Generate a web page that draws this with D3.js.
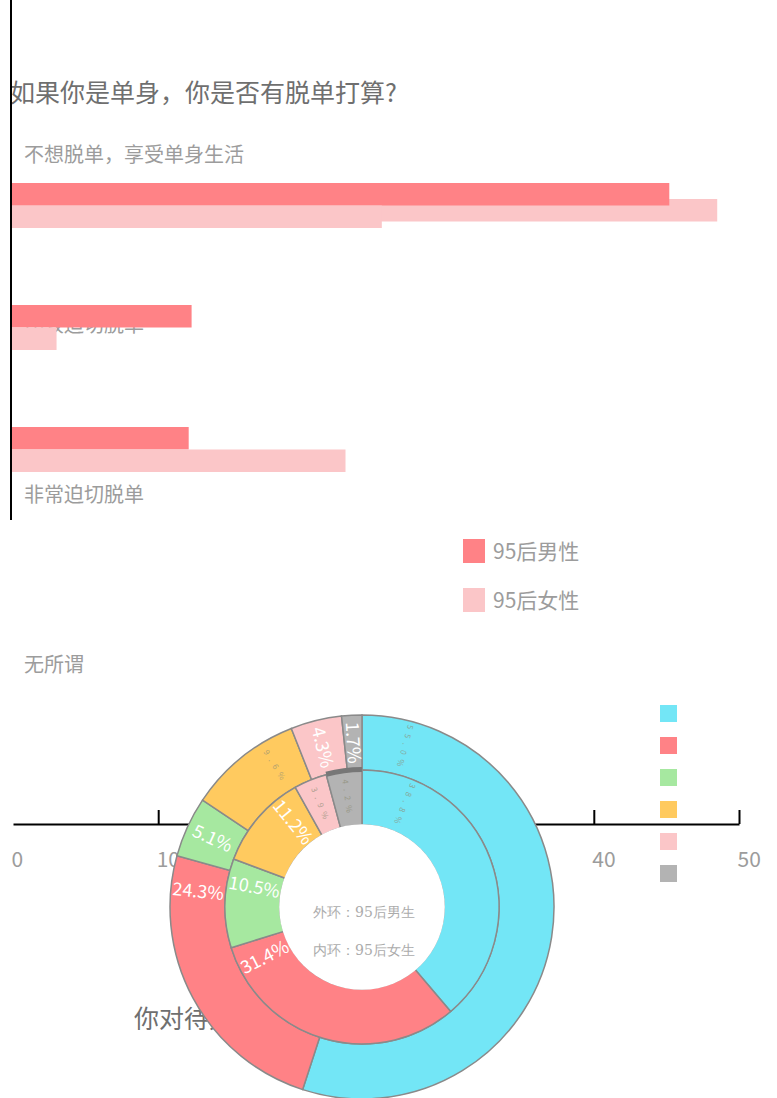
<!DOCTYPE html>
<html>
<head>
<meta charset="utf-8">
<script src="https://cdn.jsdelivr.net/npm/d3@7/dist/d3.min.js"></script>
<style>
  body { margin: 0; background: #fff; }
  svg { display: block; }
  text { font-family: "Noto Sans CJK SC", "Microsoft YaHei", sans-serif; }
</style>
</head>
<body>
<div id="wrapper"></div>
<script>
// Bar chart data
const categories = ['不想脱单，享受单身生活', '比较迫切脱单', '非常迫切脱单', '无所谓'];
const maleValues = [45.2, 12.3, 12.1, null];
const femaleValues = [25.4, 3.0, 22.9, null];
const femaleGhostValues = [48.5, null, null, null]; // stray bar left behind in the first group
const xTicks = [0, 10, 20, 30, 40, 50];
const seriesNames = ['95后男性', '95后女性'];

// Donut data
const ringNames = ['外环：95后男生', '内环：95后女生'];
const outerShares = [55.0, 24.3, 5.1, 9.6, 4.3, 1.7];
const innerShares = [38.8, 31.4, 10.5, 11.2, 3.9, 4.2];

function drawChart() {
  const dimensions = { width: 777, height: 1098 };

  const barColors = ['#ff8286', '#fbc6c8'];
  const sliceColors = ['#73e6f6', '#ff8286', '#a6e8a0', '#ffca5f', '#fbc6c8', '#b3b3b3'];
  const faintLabels = { outer: [0, 3], inner: [0, 4, 5] };

  const svg = d3
    .select('#wrapper')
    .append('svg')
    .attr('width', dimensions.width)
    .attr('height', dimensions.height);

  // Scales
  const xScale = d3.scaleLinear().domain([0, 50]).range([13, 739]);
  const yScale = d3.scaleBand().domain(categories).range([183, 671]);
  const labelScale = d3.scalePoint().domain(categories).range([155, 665]);
  const barHeight = 22.5;

  // Titles
  svg
    .append('text')
    .attr('x', 10)
    .attr('y', 102)
    .attr('fill', '#6f6f6f')
    .style('font-size', '25px')
    .text('如果你是单身，你是否有脱单打算?');

  svg
    .append('text')
    .attr('x', 134)
    .attr('y', 1028)
    .attr('fill', '#6f6f6f')
    .style('font-size', '25px')
    .text('你对待爱情的态度？');

  // Category labels
  svg
    .append('g')
    .selectAll('text')
    .data(categories)
    .join('text')
    .attr('x', 24)
    .attr('y', (d) => labelScale(d))
    .attr('dy', '0.35em')
    .attr('fill', '#9c9c9c')
    .style('font-size', '20px')
    .text((d) => d);

  // y axis line
  svg
    .append('line')
    .attr('x1', 11)
    .attr('x2', 11)
    .attr('y1', 0)
    .attr('y2', 520)
    .attr('stroke', '#000')
    .attr('stroke-width', 2);

  // Bars
  const bars = svg.append('g');
  bars
    .selectAll('.ghost')
    .data(categories.filter((c, i) => femaleGhostValues[i] != null))
    .join('rect')
    .attr('class', 'ghost')
    .attr('x', xScale(0) - 1)
    .attr('y', (d) => yScale(d) + 16)
    .attr('width', (d) => xScale(femaleGhostValues[categories.indexOf(d)]) - xScale(0) + 1)
    .attr('height', barHeight)
    .attr('fill', barColors[1]);

  [maleValues, femaleValues].forEach((values, s) => {
    bars
      .append('g')
      .selectAll('rect')
      .data(categories.filter((c, i) => values[i] != null))
      .join('rect')
      .attr('x', xScale(0) - 1)
      .attr('y', (d) => yScale(d) + s * barHeight)
      .attr('width', (d) => xScale(values[categories.indexOf(d)]) - xScale(0) + 1)
      .attr('height', barHeight)
      .attr('fill', barColors[s]);
  });

  // x axis
  const xAxis = d3
    .axisBottom(xScale)
    .tickValues(xTicks)
    .tickSizeInner(-14)
    .tickSizeOuter(0);
  const xAxisGroup = svg
    .append('g')
    .attr('transform', 'translate(0, 824)')
    .call(xAxis);
  xAxisGroup.select('.domain').attr('stroke', '#000').attr('stroke-width', 2);
  xAxisGroup.selectAll('.tick line').attr('stroke', '#000').attr('stroke-width', 2);
  xAxisGroup.selectAll('.tick').filter((d) => d === 0).select('line').remove();
  xAxisGroup
    .selectAll('.tick text')
    .attr('x', -2)
    .attr('y', 43)
    .attr('dy', 0)
    .attr('text-anchor', 'start')
    .attr('fill', '#9c9c9c')
    .style('font-size', '21px')
    .style('font-family', '"Noto Sans CJK SC", sans-serif');

  // Bar legend
  const legend = svg.append('g');
  seriesNames.forEach((name, i) => {
    legend
      .append('rect')
      .attr('x', 463)
      .attr('y', 539 + i * 49)
      .attr('width', 22)
      .attr('height', 24)
      .attr('fill', barColors[i]);
    legend
      .append('text')
      .attr('x', 493)
      .attr('y', 551 + i * 49)
      .attr('dy', '0.36em')
      .attr('fill', '#9c9c9c')
      .style('font-size', '21px')
      .text(name);
  });

  // Donut
  const cx = 362;
  const cy = 907;
  const holeRadius = 82;
  const rings = [
    { key: 'outer', shares: outerShares, inner: 137, outer: 192 },
    { key: 'inner', shares: innerShares, inner: holeRadius, outer: 137 },
  ];
  const pie = d3.pie().sort(null).value((d) => d);
  const donut = svg.append('g').attr('transform', `translate(${cx}, ${cy})`);

  // white hole hides the axis behind the donut
  donut.append('circle').attr('r', holeRadius + 1).attr('fill', '#fff');

  rings.forEach((ring) => {
    const arc = d3.arc().innerRadius(ring.inner).outerRadius(ring.outer);
    const slices = pie(ring.shares);
    donut
      .append('g')
      .selectAll('path')
      .data(slices)
      .join('path')
      .attr('d', arc)
      .attr('fill', (d, i) => sliceColors[i])
      .attr('stroke', '#8a8a8a')
      .attr('stroke-width', 1.5);

    const rMid = (ring.inner + ring.outer) / 2;
    const labelAngle = (d, i) =>
      i === 0
        ? d.startAngle + 43 / rMid
        : d.endAngle - Math.min((d.endAngle - d.startAngle) / 2, (10 * Math.PI) / 180);

    donut
      .append('g')
      .selectAll('text')
      .data(slices)
      .join('text')
      .each(function (d, i) {
        const a = labelAngle(d, i);
        const x = rMid * Math.sin(a);
        const y = -rMid * Math.cos(a);
        const rot = (Math.atan2(Math.cos(a), -Math.sin(a)) * 180) / Math.PI;
        const faint = faintLabels[ring.key].includes(i);
        d3.select(this)
          .attr('transform', `translate(${x}, ${y}) rotate(${rot})`)
          .attr('text-anchor', 'middle')
          .attr('dy', '0.35em')
          .attr('fill', faint ? '#8f8f78' : '#fff')
          .attr('opacity', faint ? 0.7 : 1)
          .style('font-size', faint ? '8px' : '18px')
          .style('letter-spacing', faint ? '5px' : null)
          .text(d3.format('.1f')(d.data) + '%');
      });
  });

  // soften the inner edge: no outline around the hole
  donut.append('circle').attr('r', holeRadius + 0.8).attr('fill', '#fff');

  // thick top edge on the inner grey slice
  const innerSlices = pie(innerShares);
  const greySlice = innerSlices[innerSlices.length - 1];
  donut
    .append('path')
    .attr(
      'd',
      d3
        .arc()
        .innerRadius(135)
        .outerRadius(140)
        .startAngle(greySlice.startAngle)
        .endAngle(greySlice.endAngle)()
    )
    .attr('fill', '#777');

  // Centre captions
  ringNames.forEach((name, i) => {
    donut
      .append('text')
      .attr('x', 2)
      .attr('y', 5 + i * 38)
      .attr('dy', '0.35em')
      .attr('text-anchor', 'middle')
      .attr('fill', '#ababab')
      .style('font-size', '14px')
      .style('font-family', '"DejaVu Serif", serif')
      .text(name);
  });

  // Donut legend (colour chips only)
  svg
    .append('g')
    .selectAll('rect')
    .data(sliceColors)
    .join('rect')
    .attr('x', 660)
    .attr('y', (d, i) => 705 + i * 32)
    .attr('width', 17)
    .attr('height', 17)
    .attr('fill', (d) => d);
}
drawChart();
</script>
</body>
</html>
